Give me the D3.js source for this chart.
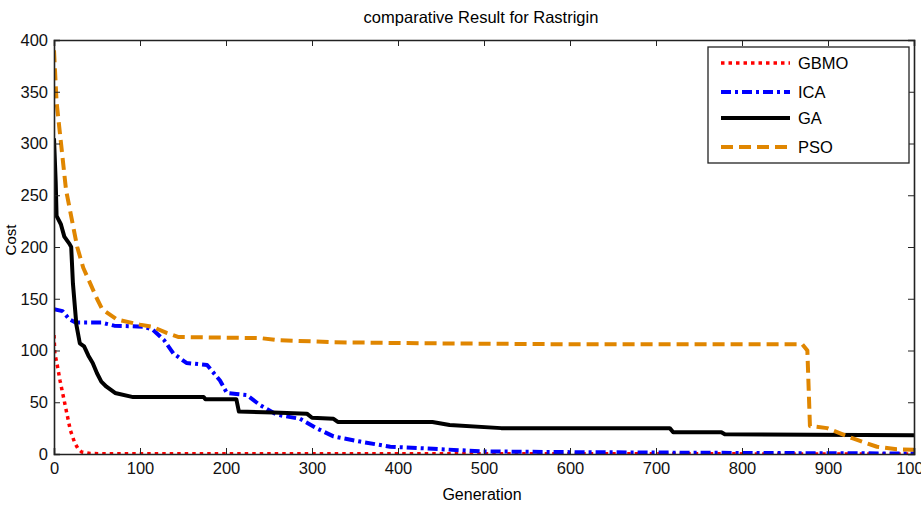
<!DOCTYPE html>
<html>
<head>
<meta charset="utf-8">
<script src="https://cdn.jsdelivr.net/npm/d3@7"></script>
<style>
  body { margin: 0; background: #fff; }
  text { font-family: "Liberation Sans", Arial, sans-serif; }
</style>
</head>
<body>
<svg width="921" height="508"></svg>
<script>
// data: [generation, cost]
const gbmo = [[0,115],[1,97],[4,85],[7,71],[11,55],[15,39],[19,23],[24,11],[28,5],[32,2],[42,0.5],[60,0.2],[1000,0.1]];
const ica = [[0,140],[10,138],[18,130],[25,127],[55,127],[70,124],[105,123],[115,120],[128,110],[139,97],[154,88],[178,86],[193,71],[201,59],[212,58],[224,57],[240,47],[259,38],[286,34],[305,25],[325,17],[356,12],[391,7],[441,5],[499,2.5],[600,1.8],[800,1],[1000,0.5]];
const ga = [[0,305],[2,262],[3,230],[8,222],[12,210],[18,203],[20,200],[22,165],[26,125],[30,107],[35,104],[40,95],[45,88],[50,78],[55,70],[61,65],[71,59],[92,55],[174,55],[176,53],[212,53],[215,41],[255,40],[294,39],[300,35],[325,34],[330,31],[440,31],[460,28],[520,25],[716,25],[720,21],[776,21],[780,19],[880,18.5],[1000,18]];
const pso = [[0,390],[3,340],[14,255],[27,200],[34,180],[50,150],[56,140],[73,130],[100,125],[114,123],[131,117],[145,113],[240,112],[260,110],[325,108],[425,107],[600,106],[870,106],[876,100],[879,27],[899,25],[929,15],[957,7],[980,4.5],[1000,4]];

const seriesNames = ["GBMO", "ICA", "GA", "PSO"];
const seriesData = [gbmo, ica, ga, pso];
const seriesColors = ["#ff0000", "#0000ff", "#000000", "#e08600"];
const seriesDash = ["3.5,4", "10,4,3,4", null, "12,6"];
const seriesWidth = [3.5, 4, 4, 4];

const xTicks = d3.range(0, 1001, 100);
const yTicks = d3.range(0, 401, 50);

var svg = d3.select("svg");
var mLeft = 54, mRight = 914, mTop = 40, mBottom = 454;

var x = d3.scaleLinear().domain([0, 1000]).range([mLeft, mRight]);
var y = d3.scaleLinear().domain([0, 400]).range([mBottom, mTop]);

// title
svg.append("text")
    .attr("x", 481)
    .attr("y", 23)
    .attr("text-anchor", "middle")
    .style("font-size", "16.5px")
    .text("comparative Result for Rastrigin");

// lines
svg.append("defs").append("clipPath").attr("id", "clip")
    .append("rect").attr("x", mLeft).attr("y", mTop - 2).attr("width", mRight - mLeft).attr("height", mBottom - mTop + 2);

var line = d3.line().x(d => x(d[0])).y(d => y(d[1]));

svg.append("g")
    .attr("clip-path", "url(#clip)")
    .selectAll("path")
    .data(seriesData)
    .enter()
    .append("path")
    .attr("d", line)
    .attr("fill", "none")
    .attr("stroke", (d, i) => seriesColors[i])
    .attr("stroke-width", (d, i) => seriesWidth[i])
    .attr("stroke-dasharray", (d, i) => seriesDash[i])
    .attr("stroke-linejoin", "round");

// axes with inward ticks, box style
var axisColor = "#222";
var xb = svg.append("g").attr("transform", "translate(0," + mBottom + ")")
    .call(d3.axisBottom(x).tickValues(xTicks).tickSize(-6).tickPadding(8).tickFormat(d3.format("d")));
var xt = svg.append("g").attr("transform", "translate(0," + mTop + ")")
    .call(d3.axisTop(x).tickValues(xTicks).tickSize(-6).tickFormat(""));
var yl = svg.append("g").attr("transform", "translate(" + mLeft + ",0)")
    .call(d3.axisLeft(y).tickValues(yTicks).tickSize(-6).tickPadding(6));
var yr = svg.append("g").attr("transform", "translate(" + mRight + ",0)")
    .call(d3.axisRight(y).tickValues(yTicks).tickSize(-6).tickFormat(""));

[xb, xt, yl, yr].forEach(function(g){
    g.selectAll(".domain").attr("stroke", axisColor).attr("stroke-width", 1.6);
    g.selectAll(".tick line").attr("stroke", axisColor).attr("stroke-width", 1);
    g.selectAll(".tick text").style("font-size", "16.5px").attr("fill", "#111")
        .style("font-family", "'Liberation Sans', Arial, sans-serif");
});

// axis labels
svg.append("text")
    .attr("x", 482)
    .attr("y", 500)
    .attr("text-anchor", "middle")
    .style("font-size", "16px")
    .text("Generation");

svg.append("text")
    .attr("transform", "translate(16,240) rotate(-90)")
    .attr("text-anchor", "middle")
    .style("font-size", "15px")
    .text("Cost");

// legend
var legend = svg.append("g");
legend.append("rect")
    .attr("x", 708).attr("y", 47)
    .attr("width", 201).attr("height", 116)
    .attr("fill", "#fff")
    .attr("stroke", axisColor)
    .attr("stroke-width", 1.3);

var items = legend.selectAll("g.item")
    .data(seriesNames)
    .enter()
    .append("g")
    .attr("transform", (d, i) => "translate(0," + [63, 92, 118, 147][i] + ")");

items.append("line")
    .attr("x1", 721).attr("x2", 790)
    .attr("stroke", (d, i) => seriesColors[i])
    .attr("stroke-width", (d, i) => seriesWidth[i])
    .attr("stroke-dasharray", (d, i) => seriesDash[i]);

items.append("text")
    .attr("x", 798)
    .attr("y", 6)
    .style("font-size", "16.5px")
    .text(d => d);
</script>
</body>
</html>
